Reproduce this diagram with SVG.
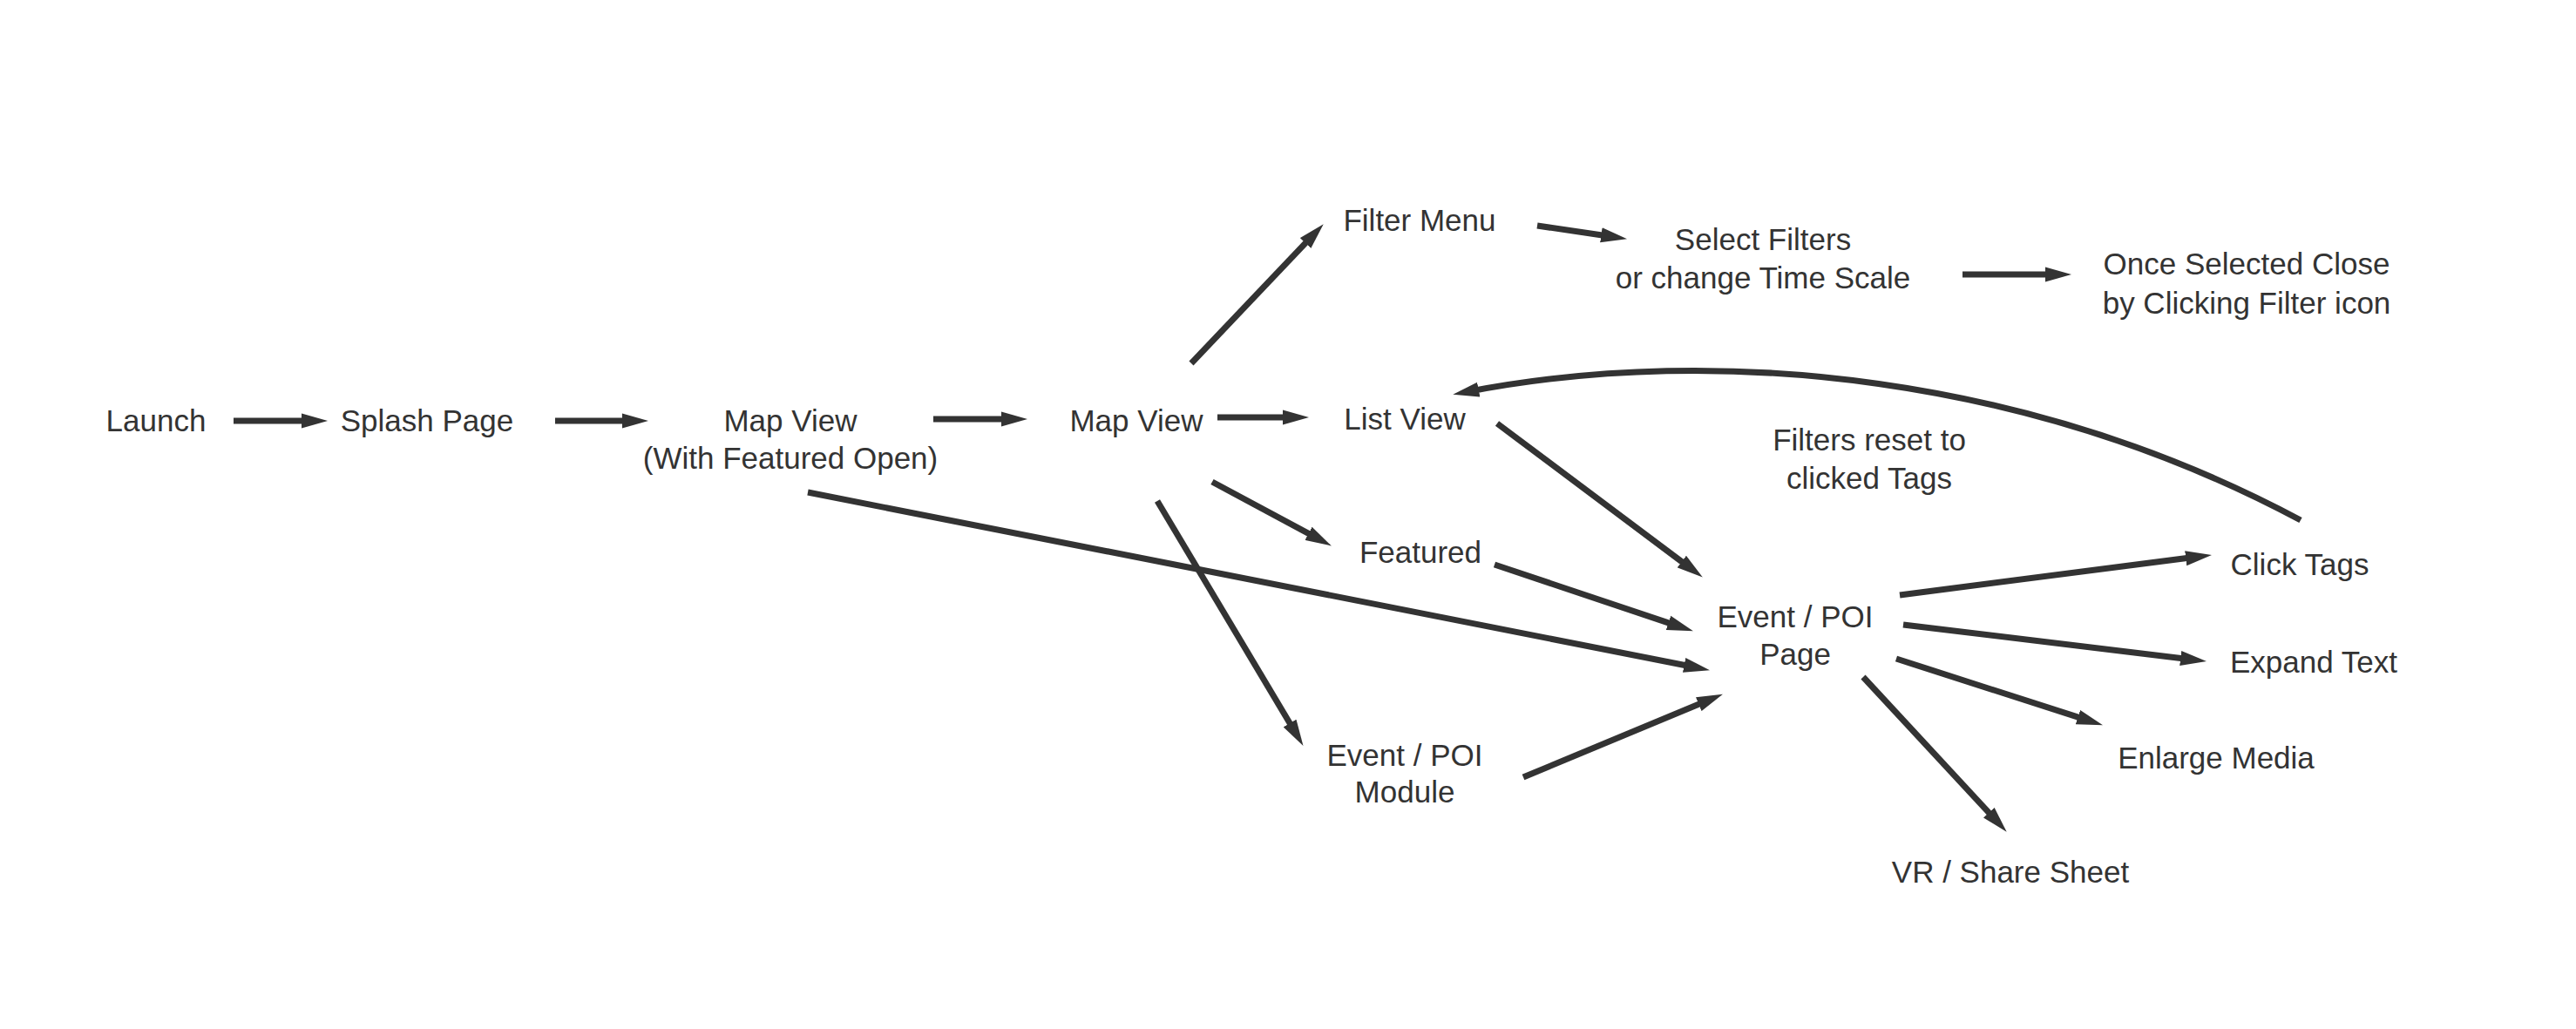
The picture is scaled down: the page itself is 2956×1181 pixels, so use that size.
<svg xmlns="http://www.w3.org/2000/svg" width="2956" height="1181" viewBox="0 0 2956 1181">
<style>
  text { font-family: "Liberation Sans", Arial, sans-serif; font-size: 35px; fill: #333333; text-anchor: middle; }
  .c { fill: none; stroke: #333333; stroke-width: 7; stroke-linecap: butt; }
</style>
<defs>
  <marker id="ah" markerUnits="userSpaceOnUse" markerWidth="30" markerHeight="18" viewBox="0 0 28 16" refX="14" refY="8" orient="auto">
    <path d="M0,0 L28,8 L0,16 Z" fill="#333333"/>
  </marker>
</defs>
<rect width="2956" height="1181" fill="#ffffff"/>
<g id="connectors">
  <line class="c" x1="268" y1="483" x2="361" y2="483" marker-end="url(#ah)"/>
  <line class="c" x1="637" y1="483" x2="729" y2="483" marker-end="url(#ah)"/>
  <line class="c" x1="1071" y1="481" x2="1164" y2="481" marker-end="url(#ah)"/>
  <line class="c" x1="1397" y1="479" x2="1487" y2="479" marker-end="url(#ah)"/>
  <line class="c" x1="1367" y1="417" x2="1508.4" y2="268.2" marker-end="url(#ah)"/>
  <line class="c" x1="1764" y1="259" x2="1852.2" y2="272" marker-end="url(#ah)"/>
  <line class="c" x1="2252" y1="315" x2="2362" y2="315" marker-end="url(#ah)"/>
  <line class="c" x1="1391" y1="553" x2="1514.7" y2="619.4" marker-end="url(#ah)"/>
  <line class="c" x1="1328" y1="575" x2="1487.8" y2="843" marker-end="url(#ah)"/>
  <line class="c" x1="927" y1="565" x2="1947.3" y2="766.3" marker-end="url(#ah)"/>
  <line class="c" x1="1718" y1="486" x2="1941.8" y2="653.6" marker-end="url(#ah)"/>
  <line class="c" x1="1715" y1="648" x2="1928.7" y2="719.6" marker-end="url(#ah)"/>
  <line class="c" x1="1748" y1="892" x2="1963.1" y2="802.4" marker-end="url(#ah)"/>
  <line class="c" x1="2180" y1="683" x2="2523.1" y2="638.8" marker-end="url(#ah)"/>
  <line class="c" x1="2184" y1="717" x2="2517.1" y2="757.3" marker-end="url(#ah)"/>
  <line class="c" x1="2176" y1="756" x2="2398.7" y2="827.7" marker-end="url(#ah)"/>
  <line class="c" x1="2138" y1="777" x2="2292.5" y2="943.7" marker-end="url(#ah)"/>
  <path class="c" d="M2640,597 C2332,432.5 1976,393 1682,450" marker-end="url(#ah)"/>
</g>
<g id="launch"><text x="179" y="495">Launch</text></g>
<g id="splash-page"><text x="490" y="495">Splash Page</text></g>
<g id="map-view-featured"><text x="907" y="495">Map View</text><text x="907" y="538">(With Featured Open)</text></g>
<g id="map-view"><text x="1304" y="495">Map View</text></g>
<g id="list-view"><text x="1612" y="493">List View</text></g>
<g id="filter-menu"><text x="1629" y="265">Filter Menu</text></g>
<g id="select-filters"><text x="2023" y="287">Select Filters</text><text x="2023" y="331">or change Time Scale</text></g>
<g id="once-selected"><text x="2578" y="315">Once Selected Close</text><text x="2578" y="360">by Clicking Filter icon</text></g>
<g id="filters-reset"><text x="2145" y="517">Filters reset to</text><text x="2145" y="561">clicked Tags</text></g>
<g id="featured"><text x="1630" y="646">Featured</text></g>
<g id="event-poi-module"><text x="1612" y="879">Event / POI</text><text x="1612" y="921">Module</text></g>
<g id="event-poi-page"><text x="2060" y="720">Event / POI</text><text x="2060" y="763">Page</text></g>
<g id="click-tags"><text x="2639" y="660">Click Tags</text></g>
<g id="expand-text"><text x="2655" y="772">Expand Text</text></g>
<g id="enlarge-media"><text x="2543" y="882">Enlarge Media</text></g>
<g id="vr-share-sheet"><text x="2307" y="1013">VR / Share Sheet</text></g>
</svg>
